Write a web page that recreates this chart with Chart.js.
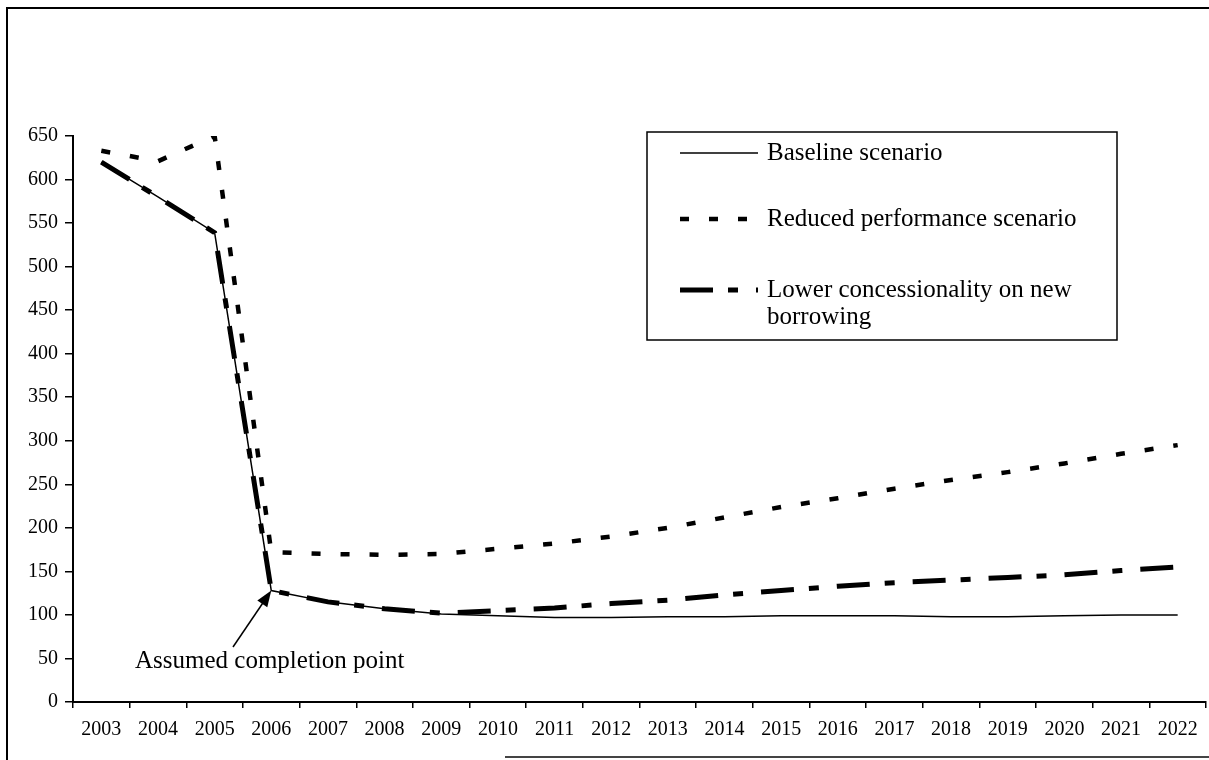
<!DOCTYPE html>
<html lang="en">
<head>
<meta charset="UTF-8" />
<title>Debt indicator scenarios</title>
<script src="https://cdn.jsdelivr.net/npm/chart.js@4.4.1/dist/chart.umd.min.js"></script>
<style>
  html, body { margin: 0; padding: 0; background: #fff; }
  #wrap { width: 1209px; height: 760px; }
</style>
</head>
<body>
<div id="wrap"><canvas id="debtChart" width="1209" height="760"></canvas></div>
<script>
  const years = ["2003", "2004", "2005", "2006", "2007", "2008", "2009", "2010", "2011", "2012",
                 "2013", "2014", "2015", "2016", "2017", "2018", "2019", "2020", "2021", "2022"];
  const baseline    = [620, 580, 539, 128, 115, 107, 101, 99, 97, 97, 98, 98, 99, 99, 99, 98, 98, 99, 100, 100];
  const reducedPerf = [633, 621, 650, 172, 170, 169, 170, 176, 182, 190, 200, 212, 224, 234, 245, 255, 264, 274, 285, 295];
  const lowerConc   = [620, 580, 539, 128, 115, 107, 102, 105, 108, 113, 117, 123, 128, 133, 137, 140, 143, 146, 151, 155];
  const yMin = 0, yMax = 650, yStep = 50;
  const noteText = "Assumed completion point";
  const noteYear = "2006";

  const serif = "'Liberation Serif', 'Times New Roman', serif";
  Chart.defaults.font.family = serif;
  Chart.defaults.color = "#000";

  // white page + scanned frame lines
  const framePlugin = {
    id: "frame",
    beforeDraw(chart) {
      const ctx = chart.ctx;
      ctx.save();
      ctx.fillStyle = "#fff";
      ctx.fillRect(0, 0, chart.width, chart.height);
      ctx.strokeStyle = "#000";
      ctx.lineWidth = 2;
      ctx.beginPath();
      ctx.moveTo(7, 760);
      ctx.lineTo(7, 8);
      ctx.lineTo(1209, 8);
      ctx.stroke();
      ctx.strokeStyle = "#444";
      ctx.beginPath();
      ctx.moveTo(505, 757);
      ctx.lineTo(1209, 757);
      ctx.stroke();
      ctx.restore();
    }
  };

  // boxed legend inside the plot, drawn from the dataset styles
  const boxLegend = {
    id: "boxLegend",
    afterDraw(chart) {
      const ctx = chart.ctx;
      const rows = [153, 219, 290];
      ctx.save();
      ctx.strokeStyle = "#000";
      ctx.lineWidth = 1.5;
      ctx.setLineDash([]);
      ctx.strokeRect(647, 132, 470, 208);
      ctx.font = "25px " + serif;
      ctx.fillStyle = "#000";
      ctx.textBaseline = "middle";
      chart.data.datasets.forEach((ds, i) => {
        const y = rows[i];
        ctx.save();
        ctx.strokeStyle = ds.borderColor;
        ctx.lineWidth = ds.borderWidth;
        ctx.setLineDash(ds.borderDash || []);
        ctx.beginPath();
        ctx.moveTo(680, y);
        ctx.lineTo(758, y);
        ctx.stroke();
        ctx.restore();
        // wrap label at box width
        const words = ds.label.split(" ");
        let line = "", ly = y;
        words.forEach(w => {
          const test = line ? line + " " + w : w;
          if (ctx.measureText(test).width > 335 && line) {
            ctx.fillText(line, 767, ly);
            line = w;
            ly += 27;
          } else {
            line = test;
          }
        });
        ctx.fillText(line, 767, ly);
      });
      ctx.restore();
    }
  };

  // arrow note pointing at the completion point
  const notePlugin = {
    id: "note",
    afterDraw(chart) {
      const ctx = chart.ctx;
      const xs = chart.scales.x, ys = chart.scales.y;
      const idx = years.indexOf(noteYear);
      const tipX = xs.getPixelForValue(idx);
      const tipY = ys.getPixelForValue(baseline[idx]);
      const tailX = 233, tailY = 647;
      const ang = Math.atan2(tipY - tailY, tipX - tailX);
      ctx.save();
      ctx.strokeStyle = "#000";
      ctx.fillStyle = "#000";
      ctx.lineWidth = 1.5;
      ctx.beginPath();
      ctx.moveTo(tailX, tailY);
      ctx.lineTo(tipX - 12 * Math.cos(ang), tipY - 12 * Math.sin(ang));
      ctx.stroke();
      ctx.beginPath();
      ctx.moveTo(tipX, tipY);
      ctx.lineTo(tipX - 16 * Math.cos(ang) + 6 * Math.sin(ang), tipY - 16 * Math.sin(ang) - 6 * Math.cos(ang));
      ctx.lineTo(tipX - 16 * Math.cos(ang) - 6 * Math.sin(ang), tipY - 16 * Math.sin(ang) + 6 * Math.cos(ang));
      ctx.closePath();
      ctx.fill();
      ctx.font = "25px " + serif;
      ctx.textBaseline = "alphabetic";
      ctx.fillText(noteText, 135, 668);
      ctx.restore();
    }
  };

  new Chart(document.getElementById("debtChart"), {
    type: "line",
    data: {
      labels: years,
      datasets: [
        {
          label: "Baseline scenario",
          data: baseline,
          borderColor: "#000",
          borderWidth: 1.5,
          borderDash: []
        },
        {
          label: "Reduced performance scenario",
          data: reducedPerf,
          borderColor: "#000",
          borderWidth: 4.5,
          borderDash: [9, 20]
        },
        {
          label: "Lower concessionality on new borrowing",
          data: lowerConc,
          borderColor: "#000",
          borderWidth: 5,
          borderDash: [33, 15, 10, 18]
        }
      ]
    },
    options: {
      responsive: false,
      animation: false,
      elements: {
        line: { tension: 0, fill: false },
        point: { radius: 0, hoverRadius: 0 }
      },
      layout: { padding: { top: 136, right: 3, left: 0, bottom: 0 } },
      plugins: {
        legend: { display: false },
        tooltip: { enabled: false }
      },
      scales: {
        x: {
          offset: true,
          grid: { offset: true, drawOnChartArea: false, tickLength: 6, color: "#000", lineWidth: 1.5 },
          border: { display: true, color: "#000", width: 2 },
          ticks: { padding: 10, maxRotation: 0, autoSkip: false, font: { size: 20 }, color: "#000" },
          afterFit: (s) => { s.height = 58; }
        },
        y: {
          min: yMin,
          max: yMax,
          ticks: { stepSize: yStep, padding: 7, font: { size: 20 }, color: "#000" },
          grid: { drawOnChartArea: false, tickLength: 8, color: "#000", lineWidth: 1.5 },
          border: { display: true, color: "#000", width: 2 },
          afterFit: (s) => { s.width = 73; }
        }
      }
    },
    plugins: [framePlugin, boxLegend, notePlugin]
  });
</script>
</body>
</html>
